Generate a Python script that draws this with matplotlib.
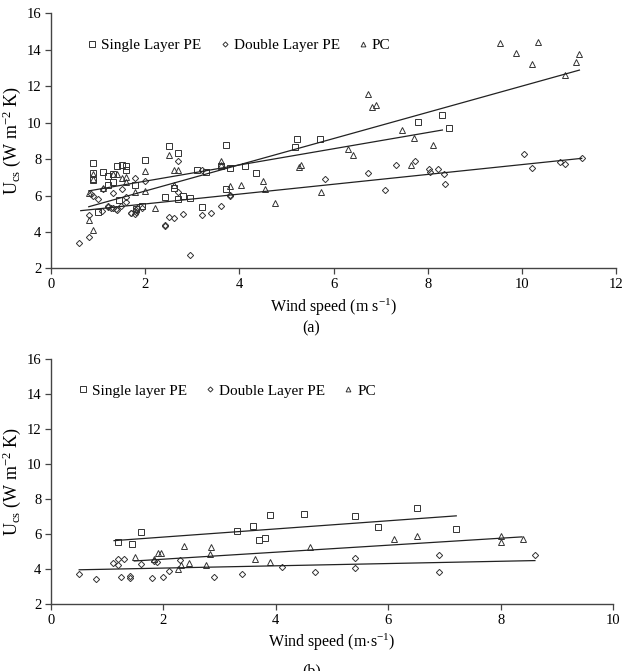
import matplotlib
matplotlib.use('Agg')
import matplotlib.pyplot as plt
import numpy as np

plt.rcParams['font.family'] = ['Liberation Serif', 'DejaVu Serif']
plt.rcParams['mathtext.fontset'] = 'custom'
plt.rcParams['mathtext.rm'] = 'Liberation Serif'
plt.rcParams['mathtext.it'] = 'Liberation Serif:italic'

# ---- (a) data ----
a_single_x = [0.90, 0.90, 0.90, 1.00, 1.11, 1.21, 1.21, 1.31, 1.31, 1.41, 1.45, 1.50, 1.60, 1.60,
              1.79, 1.80, 1.93, 2.00, 2.41, 2.50, 2.60, 2.70, 2.70, 2.80, 2.95, 3.10, 3.20, 3.30,
              3.61, 3.71, 3.71, 3.81, 4.11, 4.36, 5.18, 5.22, 5.71, 7.80, 8.31, 8.45]
a_single_y = [7.77, 7.25, 6.85, 5.10, 7.30, 7.08, 6.58, 7.20, 6.76, 7.60, 5.75, 7.70, 7.63, 7.43,
              6.60, 5.25, 5.42, 7.93, 5.90, 8.70, 6.40, 8.35, 5.79, 5.99, 5.84, 7.42, 5.35, 7.29,
              7.64, 8.79, 6.34, 7.53, 7.64, 7.22, 8.66, 9.12, 9.08, 10.03, 10.42, 9.70]

a_double_x = [0.60, 0.80, 0.80, 0.85, 0.90, 1.00, 1.09, 1.11, 1.20, 1.21, 1.27, 1.31, 1.31, 1.37,
              1.41, 1.48, 1.50, 1.60, 1.60, 1.69, 1.70, 1.78, 1.80, 1.80, 1.82, 1.79, 1.94, 2.00,
              2.41, 2.41, 2.51, 2.60, 2.70, 2.70, 2.80, 2.95, 3.20, 3.20, 3.40, 3.61, 3.81, 3.81,
              5.81, 6.72, 7.09, 7.32, 7.72, 8.03, 8.05, 8.21, 8.35, 8.36, 10.04, 10.22, 10.80,
              10.91, 11.27]
a_double_y = [3.37, 3.70, 4.93, 6.10, 5.97, 5.80, 5.16, 6.34, 5.42, 5.39, 5.29, 5.29, 6.12, 5.24,
              5.20, 5.42, 6.36, 5.66, 5.93, 5.05, 5.02, 5.00, 5.10, 5.20, 5.30, 6.94, 5.29, 6.80,
              4.34, 4.37, 4.83, 4.74, 7.91, 6.17, 4.98, 2.73, 7.40, 4.93, 5.02, 5.44, 6.03, 5.95,
              6.90, 7.25, 6.30, 7.69, 7.87, 7.44, 7.27, 7.44, 7.20, 6.65, 8.30, 7.53, 7.86,
              7.71, 8.04]

a_pc_x = [0.80, 0.80, 0.90, 0.90, 0.90, 1.11, 1.31, 1.41, 1.50, 1.60, 1.60, 1.79, 2.00, 2.00,
          2.20, 2.50, 2.60, 2.70, 2.60, 3.61, 3.61, 3.81, 4.04, 4.49, 4.54, 4.75, 5.27, 5.31,
          5.73, 6.31, 6.42, 6.72, 6.81, 6.91, 7.46, 7.64, 7.71, 8.10, 9.53, 9.88, 10.22, 10.33,
          10.92, 11.15, 11.22]
a_pc_y = [6.12, 4.65, 4.10, 7.18, 6.90, 6.43, 7.18, 7.18, 6.94, 7.03, 6.76, 6.20, 7.34, 6.26,
          5.29, 8.22, 7.40, 7.40, 6.60, 7.91, 7.67, 6.54, 6.58, 6.79, 6.35, 5.60, 7.58, 7.67,
          6.19, 8.57, 8.20, 11.57, 10.84, 10.99, 9.60, 7.69, 9.14, 8.77, 14.37, 13.80, 13.20, 14.45,
          12.63, 13.33, 13.75]

# trend lines: (x start, x end, slope, intercept)
a_single_fit = (0.80, 8.31, 0.445, 5.90)
a_double_fit = (0.63, 11.27, 0.27, 5.00)
a_pc_fit = (0.80, 11.22, 0.72, 4.81)

# ---- (b) data ----
b_single_x = [1.19, 1.44, 1.60, 3.30, 3.60, 3.70, 3.81, 3.90, 4.50, 5.41, 5.81, 6.51, 7.21]
b_single_y = [5.53, 5.45, 6.14, 6.18, 6.44, 5.66, 5.78, 7.09, 7.13, 7.04, 6.41, 7.49, 6.31]

b_pc_x = [1.50, 1.84, 1.90, 1.96, 2.25, 2.32, 2.36, 2.45, 2.75, 2.82, 2.85, 3.62, 3.89, 4.60,
          6.10, 6.51, 8.01, 8.01, 8.40]
b_pc_y = [4.71, 4.57, 4.90, 4.90, 3.98, 4.25, 5.32, 4.33, 4.23, 4.84, 5.24, 4.56, 4.38, 5.28,
          5.74, 5.91, 5.89, 5.55, 5.70]

b_double_x = [0.50, 0.80, 1.10, 1.19, 1.19, 1.25, 1.30, 1.40, 1.40, 1.60, 1.79, 1.84, 1.89,
              2.00, 2.10, 2.30, 2.90, 3.40, 4.11, 4.70, 5.41, 5.41, 6.91, 6.91, 8.61]
b_double_y = [3.72, 3.41, 4.33, 4.57, 4.23, 3.54, 4.56, 3.60, 3.47, 4.29, 3.47, 4.48, 4.40,
              3.53, 3.87, 4.52, 3.53, 3.74, 4.14, 3.81, 4.65, 4.08, 4.80, 3.85, 4.80]

b_single_fit = (1.12, 7.21, 0.233, 5.36)
b_double_fit = (0.50, 8.61, 0.065, 3.92)
b_pc_fit = (1.48, 8.38, 0.20, 4.16)

MC = '#333333'


def trend(ax, fit):
  x0, x1, m, c = fit
  xs = np.array([x0, x1])
  ax.plot(xs, m * xs + c, '-', color='#222222', lw=0.9)


def style_axes(ax, xmax):
  for s in ['top', 'right']:
    ax.spines[s].set_visible(False)
  for s in ['left', 'bottom']:
    ax.spines[s].set_color('#444444')
    ax.spines[s].set_linewidth(1.0)
  ax.set_xlim(0, xmax)
  ax.set_ylim(2, 16)
  ax.set_yticks(np.arange(2, 17, 2))
  ax.set_xticks(np.arange(0, xmax + 1, 2))
  ax.tick_params(direction='out', length=4, width=0.9, color='#444444', labelsize=10.5, pad=3)
  ax.set_ylabel('U$_{\\mathrm{cs}}$ (W m$^{-2}$ K)', fontsize=13, labelpad=3)


def scatter_set(ax, sx, sy, dx, dy, px, py, labels):
  ax.plot(sx, sy, 's', ms=5, mfc='none', mec=MC, mew=0.7, ls='none', label=labels[0])
  ax.plot(dx, dy, 'D', ms=3.2, mfc='none', mec=MC, mew=0.7, ls='none', label=labels[1])
  ax.plot(px, py, '^', ms=4.3, mfc='none', mec=MC, mew=0.7, ls='none', label=labels[2])


fig = plt.figure(figsize=(6.23, 6.71), dpi=100)

ax1 = fig.add_axes([0.082, 0.600, 0.907, 0.380])
scatter_set(ax1, a_single_x, a_single_y, a_double_x, a_double_y, a_pc_x, a_pc_y,
            ['Single Layer PE', 'Double Layer PE', 'PC'])
trend(ax1, a_single_fit)
trend(ax1, a_double_fit)
trend(ax1, a_pc_fit)
style_axes(ax1, 12)
ax1.set_xlabel('Wind speed (m s$^{-1}$)', fontsize=11.5, labelpad=4)
ax1.legend(loc='upper left', bbox_to_anchor=(0.035, 0.955), ncol=3, frameon=False,
           fontsize=11, handletextpad=0.1, columnspacing=1.0, markerscale=0.8, handlelength=1.0)
fig.text(0.5, 0.511, '(a)', ha='center', va='center', fontsize=11.5)

ax2 = fig.add_axes([0.082, 0.100, 0.902, 0.3645])
scatter_set(ax2, b_single_x, b_single_y, b_double_x, b_double_y, b_pc_x, b_pc_y,
            ['Single layer PE', 'Double Layer PE', 'PC'])
trend(ax2, b_single_fit)
trend(ax2, b_double_fit)
trend(ax2, b_pc_fit)
style_axes(ax2, 10)
ax2.set_xlabel('Wind speed (m$\\cdot$s$^{-1}$)', fontsize=11.5, labelpad=4)
ax2.legend(loc='upper left', bbox_to_anchor=(0.018, 0.955), ncol=3, frameon=False,
           fontsize=11, handletextpad=0.1, columnspacing=1.0, markerscale=0.8, handlelength=1.0)
fig.text(0.5, 0.0, '(b)', ha='center', va='center', fontsize=11.5)

fig.savefig('out.png', dpi=100)
